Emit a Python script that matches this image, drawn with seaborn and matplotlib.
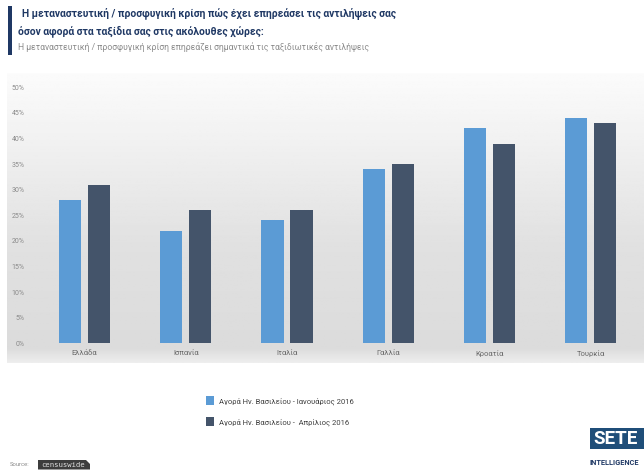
import numpy as np
import pandas as pd
import matplotlib
matplotlib.use("Agg")
import matplotlib.pyplot as plt
import seaborn as sns
from matplotlib.patches import Rectangle, Polygon

countries = ["Ελλάδα", "Ισπανία", "Ιταλία", "Γαλλία", "Κροατία", "Τουρκία"]
jan_2016 = [0.28, 0.22, 0.24, 0.34, 0.42, 0.44]
apr_2016 = [0.31, 0.26, 0.26, 0.35, 0.39, 0.43]
series_names = ["Αγορά Ην. Βασιλείου - Ιανουάριος 2016", "Αγορά Ην. Βασιλείου -  Απρίλιος 2016"]
yticks = [0, 0.05, 0.10, 0.15, 0.20, 0.25, 0.30, 0.35, 0.40, 0.45, 0.50]
ytick_labels = ["0%", "5%", "10%", "15%", "20%", "25%", "30%", "35%", "40%", "45%", "50%"]
title_lines = ["Η μεταναστευτική / προσφυγική κρίση πώς έχει επηρεάσει τις αντιλήψεις σας",
               "όσον αφορά στα ταξίδια σας στις ακόλουθες χώρες:"]
subtitle = "Η μεταναστευτική / προσφυγική κρίση επηρεάζει σημαντικά τις ταξιδιωτικές αντιλήψεις"

df = pd.DataFrame({
    "country": countries * 2,
    "value": jan_2016 + apr_2016,
    "series": [series_names[0]] * len(countries) + [series_names[1]] * len(countries),
})

sns.set_theme(style="white")
plt.rcParams["font.family"] = ["Roboto", "DejaVu Sans"]

W, H = 644, 472
fig = plt.figure(figsize=(W / 100, H / 100), dpi=100)
fig.patch.set_facecolor("white")

# background gradient panel
bg = fig.add_axes([7 / W, 1 - 363 / H, (W - 7) / W, (363 - 73) / H], zorder=0)
ys = np.linspace(0, 1, 200)
vals = np.interp(ys, [0, 0.12, 0.6, 0.95, 1.0], [0.985, 0.965, 0.88, 0.86, 0.93])
grad = np.tile(vals[:, None], (1, 2))
bg.imshow(grad, aspect="auto", cmap="gray", vmin=0, vmax=1, extent=[0, 1, 0, 1], origin="upper")
bg.set_axis_off()

# main axes
ax_left = 34 / W
ax_w = (6 * 101.2) / W
ax_bottom = (H - 343.3) / H
ax_h = (343.3 - 87.3) / H
ax = fig.add_axes([ax_left, ax_bottom, ax_w, ax_h], zorder=1)
ax.patch.set_alpha(0)

palette = ["#5b9bd5", "#44546a"]
sns.barplot(data=df, x="country", y="value", hue="series", palette=palette,
            width=0.573, gap=0.24, ax=ax, saturation=1, legend=True)
for p in ax.patches:
    p.set_linewidth(0)

ax.set_xlim(-0.5, 5.5)
ax.set_ylim(0, 0.5)
ax.set_yticks(yticks)
ax.set_yticklabels(ytick_labels, fontsize=5, color="#8a8a8a")
ax.set_xticklabels(countries, fontsize=5.5, color="#6a6a6a")
ax.tick_params(axis="y", length=0, pad=7)
ax.tick_params(axis="x", length=0, pad=5)
ax.set_xlabel("")
ax.set_ylabel("")
for s in ax.spines.values():
    s.set_visible(False)
ax.grid(False)

handles, labels = ax.get_legend_handles_labels()
ax.get_legend().remove()
fig.legend(handles, labels, loc="upper left", bbox_to_anchor=(199 / W, 1 - 389 / H),
           frameon=False, fontsize=5.5, handlelength=1.0, handleheight=1.5,
           labelspacing=1.55, handletextpad=0.75, labelcolor="#404040")

# title block
fig.add_artist(Rectangle((8 / W, 1 - 55 / H), 4 / W, 49 / H, transform=fig.transFigure,
                         facecolor="#1f3864", edgecolor="none"))
fig.text(22 / W, 1 - 14 / H, title_lines[0], fontsize=7.4, fontweight="bold",
         color="#1f3864", va="center", ha="left")
fig.text(18 / W, 1 - 31 / H, title_lines[1], fontsize=7.4, fontweight="bold",
         color="#1f3864", va="center", ha="left")
fig.text(18 / W, 1 - 47 / H, subtitle, fontsize=6.2, color="#8c8c8c", va="center", ha="left")

# source
fig.text(10 / W, 1 - 465 / H, "Source:", fontsize=4.2, color="#8c8c8c", va="center", ha="left")
fig.add_artist(Polygon([(38 / W, 1 - 469.5 / H), (38 / W, 1 - 460 / H), (86 / W, 1 - 460 / H),
                        (90 / W, 1 - 464 / H), (90 / W, 1 - 469.5 / H)],
                       closed=True, transform=fig.transFigure, facecolor="#3d3d3d", edgecolor="none"))
fig.text(41 / W, 1 - 464.8 / H, "censuswide", fontsize=5.2, color="#e0e0e0", va="center", ha="left",
         family=["DejaVu Sans Mono"])

# SETE logo
fig.add_artist(Rectangle((590 / W, 1 - 449 / H), 60 / W, 21 / H, transform=fig.transFigure,
                         facecolor="#1f4e79", edgecolor="none"))
fig.text(593 / W, 1 - 438.5 / H, "SETE", fontsize=13.5, fontweight="bold", color="white",
         va="center", ha="left")
fig.text(590 / W, 1 - 463 / H, "INTELLIGENCE", fontsize=5.3, fontweight="bold", color="#1f3864",
         va="center", ha="left")

fig.savefig("out.png", dpi=100)
